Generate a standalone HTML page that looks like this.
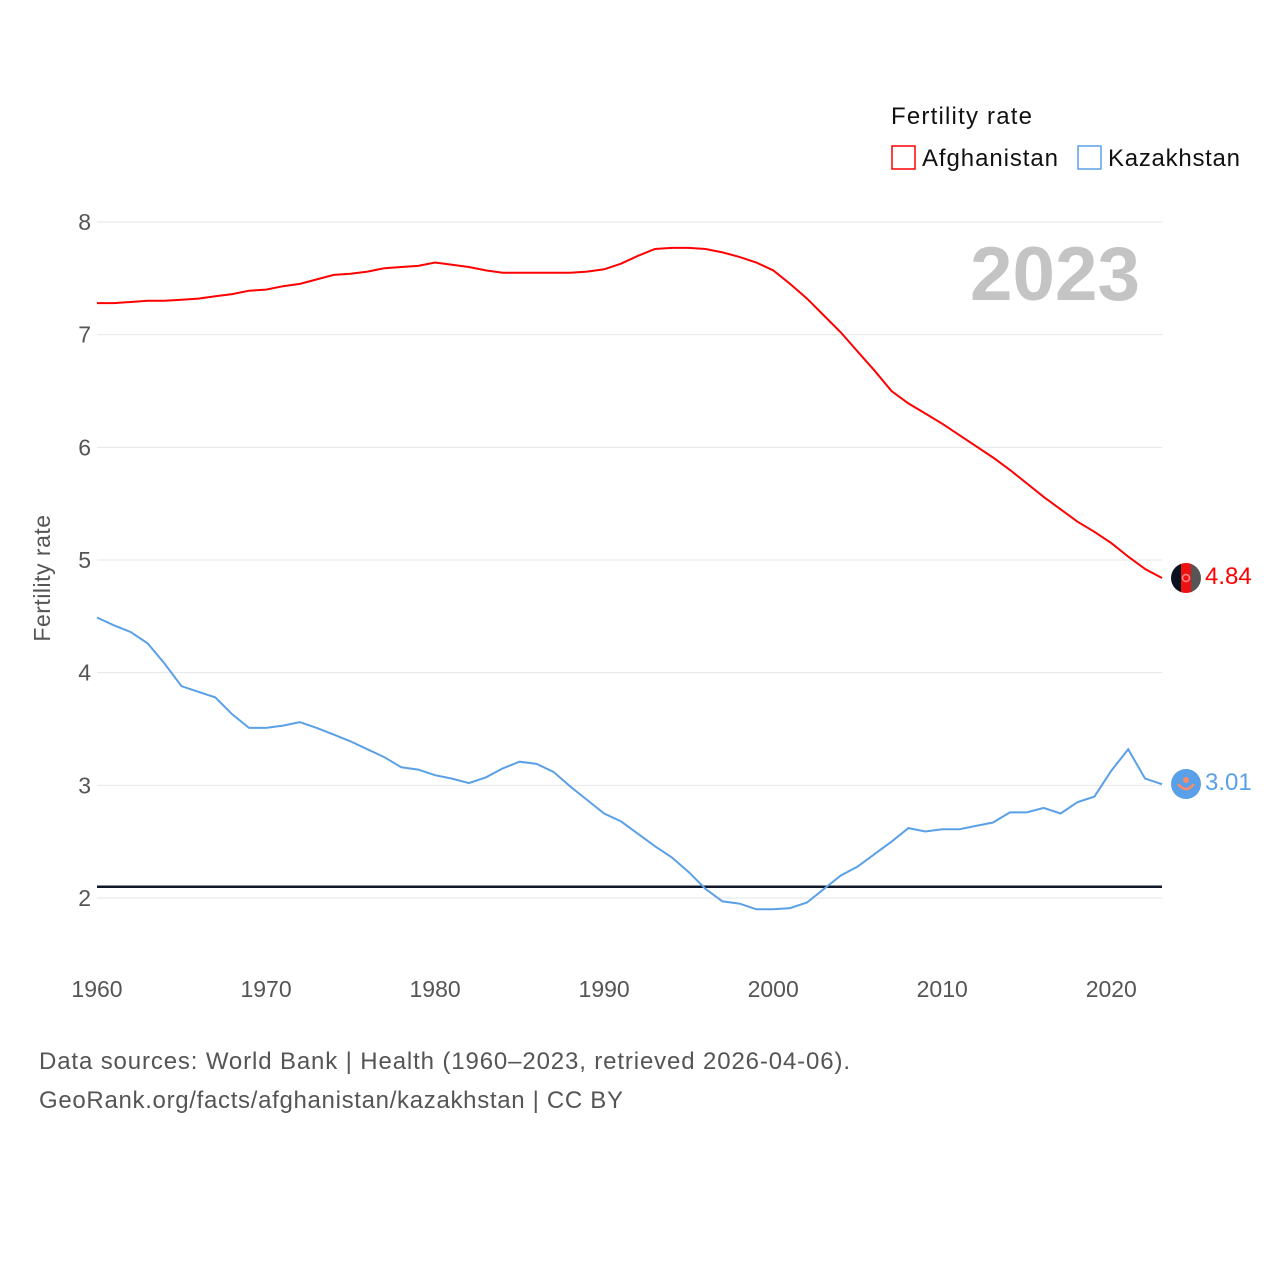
<!DOCTYPE html>
<html><head><meta charset="utf-8"><style>
body{margin:0;background:#fff;font-family:"Liberation Sans",sans-serif}
</style></head><body>
<svg width="1280" height="1280" xmlns="http://www.w3.org/2000/svg">
<defs>
<clipPath id="cA"><circle cx="1186" cy="578" r="15"/></clipPath>
</defs>
<g id="grid"></g>
<g id="ylab" font-size="23" fill="#555" text-anchor="end"></g>
<g id="xlab" font-size="23" fill="#555" text-anchor="middle"></g>
<text x="50" y="578" transform="rotate(-90 50 578)" font-size="23" fill="#555" text-anchor="middle" letter-spacing="0.5">Fertility rate</text>
<text x="970" y="300" font-size="76" font-weight="bold" fill="#c4c4c4" textLength="170" lengthAdjust="spacingAndGlyphs">2023</text>
<line id="ref" x1="97" x2="1162" stroke="#111827" stroke-width="2.5"/>
<path id="pA" fill="none" stroke="#ff0000" stroke-width="2"/>
<path id="pK" fill="none" stroke="#5aa0e8" stroke-width="2"/>
<g clip-path="url(#cA)">
<rect x="1171" y="563" width="10" height="30" fill="#0b1320"/><rect x="1181" y="563" width="10" height="30" fill="#ee1111"/><rect x="1191" y="563" width="10" height="30" fill="#555"/>
<circle cx="1186" cy="578" r="3.5" fill="none" stroke="#f88" stroke-width="1.5"/></g>
<g>
<circle cx="1186" cy="784" r="15" fill="#5aa0e8"/><circle cx="1186" cy="780" r="3" fill="#f98b6b"/>
<path d="M1178 784 Q1186 794 1194 784" fill="none" stroke="#f98b6b" stroke-width="2.5"/></g>
<text x="1205" y="584" font-size="24" fill="#ff0000">4.84</text>
<text x="1205" y="790" font-size="24" fill="#5aa0e8">3.01</text>
<g>
<text x="891" y="124" font-size="24" fill="#111" textLength="141">Fertility rate</text>
<rect x="892" y="146" width="23" height="23" fill="none" stroke="#ff0000" stroke-width="1.5"/>
<text x="922" y="166" font-size="24" fill="#111" textLength="136">Afghanistan</text>
<rect x="1078" y="146" width="23" height="23" fill="none" stroke="#5aa0e8" stroke-width="1.5"/>
<text x="1108" y="166" font-size="24" fill="#111" textLength="132">Kazakhstan</text>
</g>
<text x="39" y="1069" font-size="24" fill="#555" textLength="811">Data sources: World Bank | Health (1960–2023, retrieved 2026-04-06).</text>
<text x="39" y="1108" font-size="24" fill="#555" textLength="584">GeoRank.org/facts/afghanistan/kazakhstan | CC BY</text>
</svg>
<script>
const yTicks=[2,3,4,5,6,7,8];
const xTicks=[1960,1970,1980,1990,2000,2010,2020];
const startYear=1960;
const afghanistan=[7.28,7.28,7.29,7.30,7.30,7.31,7.32,7.34,7.36,7.39,7.40,7.43,7.45,7.49,7.53,7.54,7.56,7.59,7.60,7.61,7.64,7.62,7.60,7.57,7.55,7.55,7.55,7.55,7.55,7.56,7.58,7.63,7.70,7.76,7.77,7.77,7.76,7.73,7.69,7.64,7.57,7.45,7.32,7.17,7.02,6.85,6.68,6.50,6.39,6.30,6.21,6.11,6.01,5.91,5.80,5.68,5.56,5.45,5.34,5.25,5.15,5.03,4.92,4.84];
const kazakhstan=[4.49,4.42,4.36,4.26,4.08,3.88,3.83,3.78,3.63,3.51,3.51,3.53,3.56,3.51,3.45,3.39,3.32,3.25,3.16,3.14,3.09,3.06,3.02,3.07,3.15,3.21,3.19,3.12,2.99,2.87,2.75,2.68,2.57,2.46,2.36,2.23,2.08,1.97,1.95,1.90,1.90,1.91,1.96,2.08,2.20,2.28,2.39,2.50,2.62,2.59,2.61,2.61,2.64,2.67,2.76,2.76,2.80,2.75,2.85,2.90,3.13,3.32,3.06,3.01];
const replacement=2.1;
const X=yr=>97+(yr-1960)*(1065/63);
const Y=v=>898-(v-2)*112.67;
const ns="http://www.w3.org/2000/svg";
const grid=document.getElementById('grid'),yl=document.getElementById('ylab'),xl=document.getElementById('xlab');
yTicks.forEach(t=>{
 const l=document.createElementNS(ns,'line');
 
 
 l.setAttribute('x1',97);l.setAttribute('x2',1162);l.setAttribute('y1',Y(t));l.setAttribute('y2',Y(t));l.setAttribute('stroke','#e6e6e6');
 grid.appendChild(l);
 const tx=document.createElementNS(ns,'text');
 
 
 tx.setAttribute('x',91);tx.setAttribute('y',Y(t)+8);tx.textContent=t;yl.appendChild(tx);
});
xTicks.forEach(t=>{
 const tx=document.createElementNS(ns,'text');
 
 
 tx.setAttribute('x',X(t));tx.setAttribute('y',997);tx.textContent=t;xl.appendChild(tx);
});
const path=a=>a.map((v,i)=>(i?'L':'M')+X(startYear+i).toFixed(1)+' '+Y(v).toFixed(1)).join(' ');
document.getElementById('pA').setAttribute('d',path(afghanistan));
document.getElementById('pK').setAttribute('d',path(kazakhstan));
const r=document.getElementById('ref');r.setAttribute('y1',Y(replacement));r.setAttribute('y2',Y(replacement));
</script>
</body></html>
